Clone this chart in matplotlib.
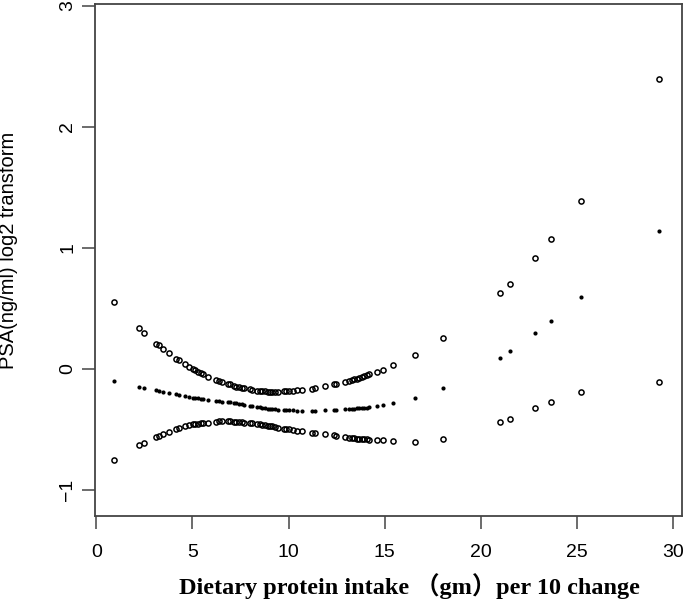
import numpy as np
import matplotlib
matplotlib.use("Agg")
import matplotlib.pyplot as plt

plt.rcParams['font.family'] = ['Liberation Sans', 'DejaVu Sans']

# protein intake (per 10 gm change)
intake = [0.94, 2.24, 2.46, 3.12, 3.24, 3.47, 3.76, 4.16, 4.28, 4.63, 4.80, 5.03, 5.15, 5.29,
          5.42, 5.53, 5.79, 6.22, 6.40, 6.55, 6.83, 6.97, 7.14, 7.28, 7.40, 7.56, 7.68, 7.97,
          8.10, 8.36, 8.49, 8.63, 8.79, 8.93, 9.05, 9.14, 9.31, 9.46, 9.74, 9.88, 10.00, 10.24,
          10.44, 10.70, 11.22, 11.39, 11.91, 12.34, 12.48, 12.92, 13.16, 13.30, 13.42, 13.56,
          13.68, 13.82, 13.94, 14.08, 14.21, 14.60, 14.89, 15.46, 16.57, 18.06, 21.00, 21.50,
          22.83, 23.66, 25.20, 29.29]

upper = [0.55, 0.335, 0.30, 0.209, 0.196, 0.165, 0.130, 0.085, 0.074, 0.041, 0.019, 0.000,
         -0.011, -0.025, -0.036, -0.041, -0.063, -0.088, -0.101, -0.105, -0.121, -0.127,
         -0.138, -0.146, -0.151, -0.157, -0.159, -0.168, -0.171, -0.179, -0.182, -0.182,
         -0.185, -0.188, -0.188, -0.188, -0.188, -0.188, -0.185, -0.182, -0.182, -0.179,
         -0.176, -0.171, -0.163, -0.160, -0.143, -0.126, -0.121, -0.110, -0.097, -0.091,
         -0.085, -0.080, -0.074, -0.066, -0.058, -0.050, -0.041, -0.022, -0.006, 0.036,
         0.12, 0.26, 0.63, 0.70, 0.92, 1.074, 1.39, 2.39]

fit = [-0.10, -0.146, -0.157, -0.176, -0.182, -0.187, -0.195, -0.207, -0.212, -0.223, -0.229,
       -0.237, -0.240, -0.242, -0.245, -0.247, -0.253, -0.262, -0.266, -0.268, -0.273, -0.276,
       -0.281, -0.284, -0.287, -0.290, -0.293, -0.302, -0.305, -0.311, -0.314, -0.318, -0.321,
       -0.326, -0.331, -0.332, -0.333, -0.334, -0.336, -0.337, -0.339, -0.341, -0.343, -0.345,
       -0.345, -0.345, -0.341, -0.341, -0.340, -0.333, -0.331, -0.328, -0.327, -0.325, -0.324,
       -0.322, -0.321, -0.320, -0.317, -0.306, -0.300, -0.281, -0.24, -0.157, 0.094, 0.146,
       0.30, 0.40, 0.598, 1.143]

lower = [-0.75, -0.628, -0.609, -0.565, -0.554, -0.540, -0.521, -0.496, -0.490, -0.474, -0.466,
         -0.457, -0.455, -0.452, -0.449, -0.446, -0.444, -0.435, -0.432, -0.432, -0.432, -0.433,
         -0.435, -0.437, -0.439, -0.441, -0.442, -0.446, -0.448, -0.455, -0.457, -0.459, -0.462,
         -0.467, -0.471, -0.474, -0.481, -0.486, -0.491, -0.494, -0.497, -0.504, -0.508, -0.512,
         -0.526, -0.529, -0.540, -0.548, -0.551, -0.562, -0.568, -0.570, -0.573, -0.576, -0.577,
         -0.579, -0.580, -0.581, -0.582, -0.587, -0.589, -0.598, -0.60, -0.576, -0.44, -0.41,
         -0.32, -0.27, -0.19, -0.105]

xticks = [0, 5, 10, 15, 20, 25, 30]
yticks = [-1, 0, 1, 2, 3]

fig = plt.figure(figsize=(6.85, 6.03), dpi=100)
ax = fig.add_axes([95 / 685, 1 - 516 / 603, 587 / 685, 512 / 603])

ax.plot(intake, upper, 'o', ms=3.7, mfc='none', mec='black', mew=1.1)
ax.plot(intake, lower, 'o', ms=3.7, mfc='none', mec='black', mew=1.1)
ax.plot(intake, fit, 'o', ms=3.0, color='black', mew=0)

ax.set_xlim(-0.07, 30.47)
ax.set_ylim(-1.213, 3.013)
ax.set_xticks(xticks)
ax.set_yticks(yticks)
ax.set_yticklabels(['\u22121', '0', '1', '2', '3'])

for s in ax.spines.values():
    s.set_color('#444444')
    s.set_linewidth(1.3)

ax.tick_params(axis='both', direction='out', length=9.5, width=1.1, color='#444444',
               labelsize=14)
ax.tick_params(axis='x', pad=11)
ax.tick_params(axis='y', pad=4, labelrotation=90)
for lab in ax.get_yticklabels():
    lab.set_va('center')

fig.text(9 / 685, 1 - 250 / 603, 'PSA(ng/ml) log2 transform', rotation=90,
         ha='center', va='center', fontsize=14.5)
fig.text(409 / 685, 1 - 586 / 603, 'Dietary protein intake （gm）per 10 change',
         ha='center', va='center', fontsize=17.5, fontweight='bold',
         family=['Liberation Serif', 'Noto Sans CJK SC'])

fig.savefig('out.png', dpi=100)
